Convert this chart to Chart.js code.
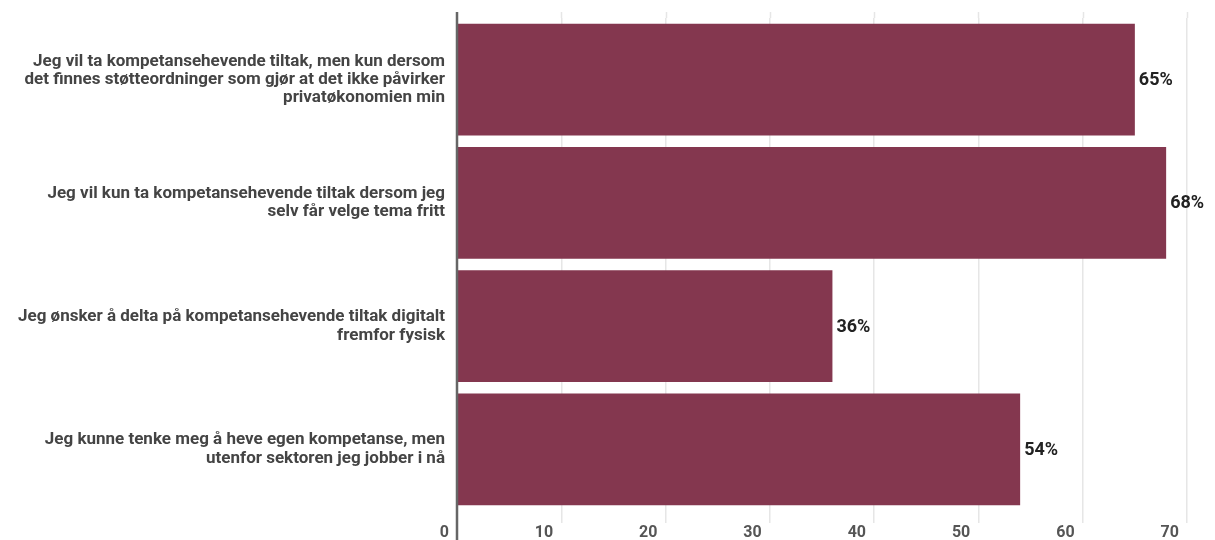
<!DOCTYPE html>
<html>
<head>
<meta charset="utf-8">
<script src="https://cdn.jsdelivr.net/npm/chart.js@4/dist/chart.umd.min.js"></script>
<style>
  html, body { margin: 0; padding: 0; background: #fff; }
  #wrap { width: 1215px; height: 540px; }
</style>
</head>
<body>
<div id="wrap"><canvas id="chart"></canvas></div>
<script>
const categories = [
  ['Jeg vil ta kompetansehevende tiltak, men kun dersom', 'det finnes støtteordninger som gjør at det ikke påvirker', 'privatøkonomien min'],
  ['Jeg vil kun ta kompetansehevende tiltak dersom jeg', 'selv får velge tema fritt'],
  ['Jeg ønsker å delta på kompetansehevende tiltak digitalt', 'fremfor fysisk'],
  ['Jeg kunne tenke meg å heve egen kompetanse, men', 'utenfor sektoren jeg jobber i nå']
];
const values = [65, 68, 36, 54];
const xTicks = [0, 10, 20, 30, 40, 50, 60, 70];

const barColor = '#84374f';
const gridColor = '#e6e6e6';

// value labels at the end of each bar
const valueLabels = {
  id: 'valueLabels',
  afterDatasetsDraw(chart) {
    const ctx = chart.ctx;
    const meta = chart.getDatasetMeta(0);
    ctx.save();
    ctx.font = 'bold 18px Roboto';
    ctx.fillStyle = '#222';
    ctx.textAlign = 'left';
    ctx.textBaseline = 'middle';
    meta.data.forEach((bar, i) => {
      ctx.fillText(values[i] + '%', bar.x + 4, bar.y + 1);
    });
    ctx.restore();
  }
};

// axis line and grid lines reach a bit past the plot area
const axisLines = {
  id: 'axisLines',
  beforeDatasetsDraw(chart) {
    const ctx = chart.ctx;
    const x = chart.scales.x;
    const top = chart.chartArea.top;
    ctx.save();
    ctx.strokeStyle = gridColor;
    ctx.lineWidth = 1.5;
    xTicks.slice(1).forEach(v => {
      const px = Math.round(x.getPixelForValue(v)) + 0.5;
      ctx.beginPath();
      ctx.moveTo(px, 12);
      ctx.lineTo(px, top);
      ctx.stroke();
    });
    ctx.restore();
  },
  afterDatasetsDraw(chart) {
    const ctx = chart.ctx;
    const px = chart.scales.x.getPixelForValue(0);
    ctx.save();
    ctx.strokeStyle = '#666';
    ctx.lineWidth = 2.5;
    ctx.beginPath();
    ctx.moveTo(px, 12);
    ctx.lineTo(px, 540);
    ctx.stroke();
    ctx.restore();
  }
};

new Chart(document.getElementById('chart'), {
  type: 'bar',
  data: {
    labels: categories,
    datasets: [{
      data: values,
      backgroundColor: barColor,
      borderWidth: 0,
      barPercentage: 0.905,
      categoryPercentage: 1
    }]
  },
  options: {
    indexAxis: 'y',
    responsive: true,
    maintainAspectRatio: false,
    animation: false,
    layout: { padding: { top: 18, right: 28, left: 0, bottom: 0 } },
    plugins: {
      legend: { display: false },
      tooltip: { enabled: false }
    },
    scales: {
      x: {
        min: 0,
        max: 70,
        afterBuildTicks: axis => { axis.ticks = xTicks.map(v => ({ value: v })); },
        afterFit: axis => {
          axis.height = 29;
          axis.paddingLeft = 0;
          axis.paddingRight = 0;
        },
        grid: { color: gridColor, lineWidth: 1.5, drawTicks: true, tickLength: 12, tickColor: gridColor },
        border: { display: false },
        ticks: {
          align: 'end',
          padding: 0,
          color: '#555',
          font: { family: 'Roboto', size: 16, weight: 'bold' },
          callback: v => v + '\u2002'
        }
      },
      y: {
        afterFit: axis => {
          axis.width = 457;
          axis.paddingTop = 0;
          axis.paddingBottom = 0;
        },
        grid: { display: false, drawTicks: false },
        border: { display: false },
        ticks: {
          padding: 12,
          color: '#444',
          font: { family: 'Roboto', size: 17, weight: 'bold', lineHeight: 1.08 }
        }
      }
    }
  },
  plugins: [valueLabels, axisLines]
});
</script>
</body>
</html>
